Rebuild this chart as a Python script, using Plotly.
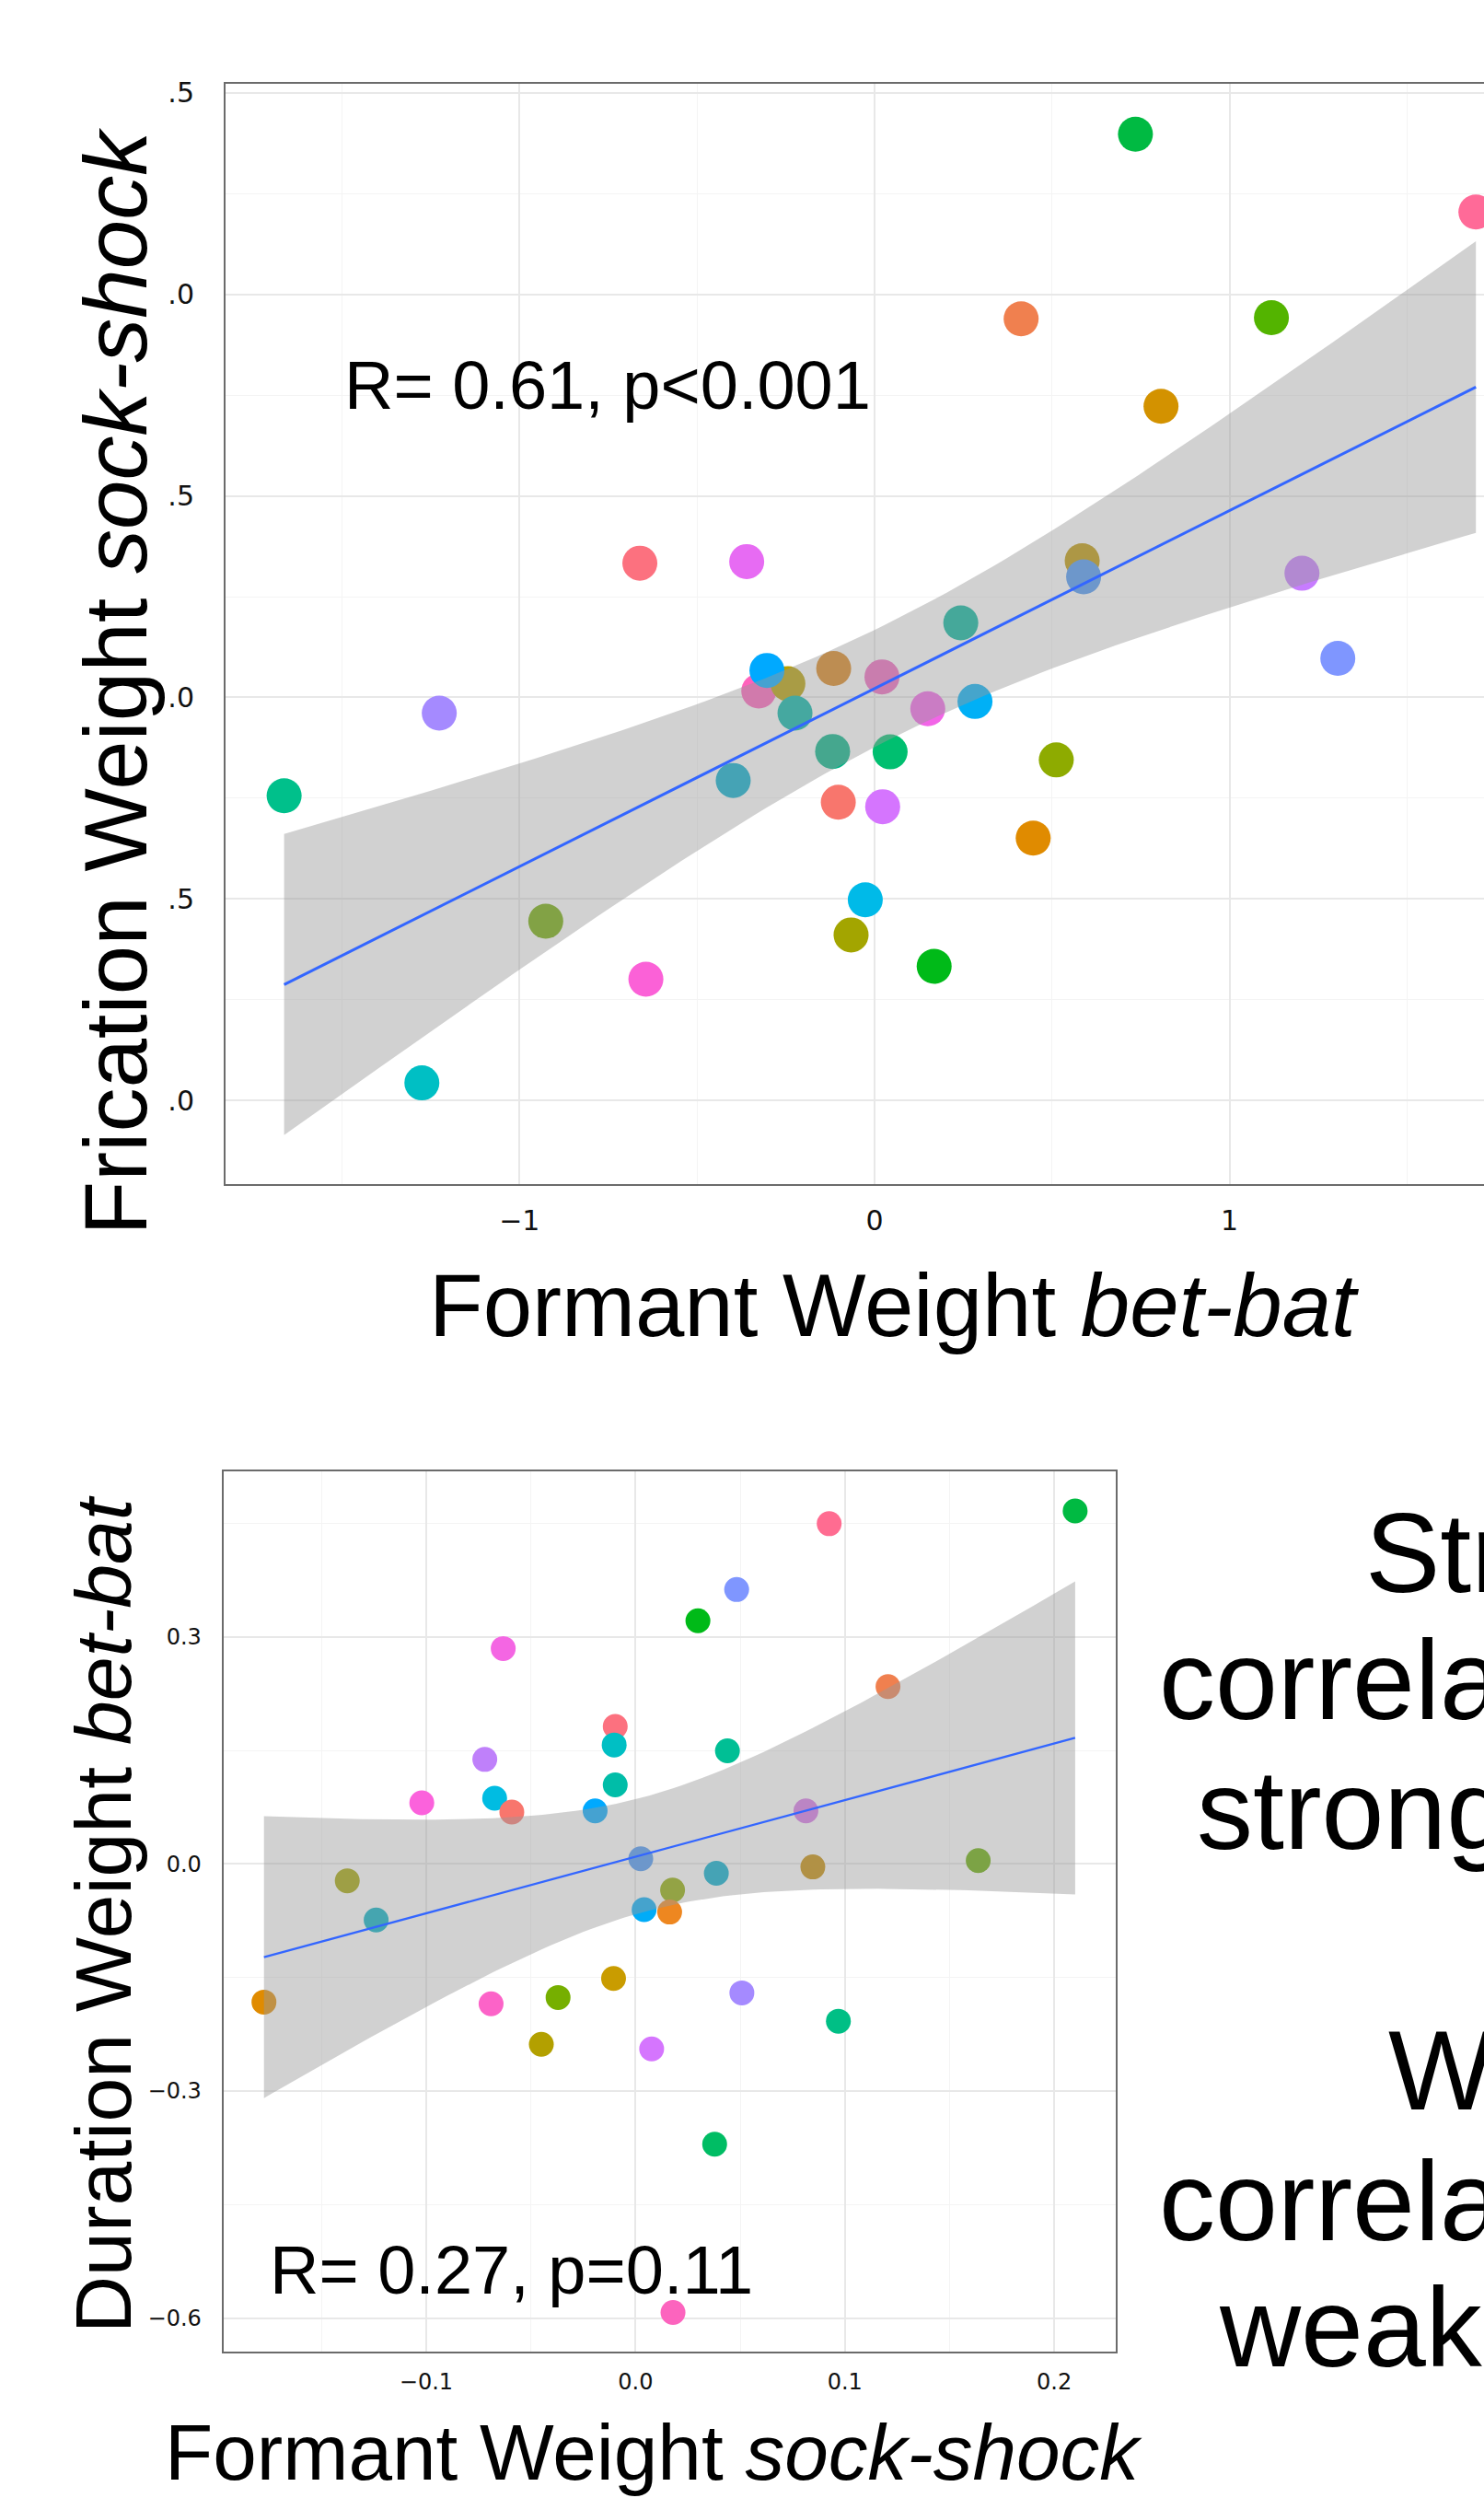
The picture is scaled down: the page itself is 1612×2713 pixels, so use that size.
import numpy as np
import plotly.graph_objects as go

W, H = 1612, 2713
TEXT_FONT = "Liberation Sans, Arial, Helvetica, sans-serif"
TICK_FONT = "DejaVu Sans, Liberation Sans, sans-serif"

# ---- Upper panel: formant weight (bet-bat) vs frication weight (sock-shock), one point per listener
bet_bat_formant = [
    -0.661, -0.360, -1.226, -0.326, -0.244, -0.303, -0.115, -0.224,
    0.735, 1.694, 0.413, 1.118, 0.807, 0.585, 0.589, 1.204, 1.305,
    0.243, 0.021, 0.150, 0.283, -1.663, -0.398, -0.118, -0.102,
    -0.926, -0.644, -1.275, -0.026, -0.066, 0.044, 0.512, 0.023,
    0.447, 0.168,
]
sock_shock_frication = [
    0.333, 0.337, -0.039, 0.016, 0.034, 0.067, 0.072, -0.039,
    1.397, 1.204, 0.939, 0.942, 0.722, 0.339, 0.299, 0.308, 0.097,
    0.185, 0.051, -0.028, -0.010, -0.244, -0.206, -0.134, -0.260,
    -0.555, -0.699, -0.956, -0.502, -0.589, -0.135, -0.155, -0.271,
    -0.349, -0.667,
]
listener_colors_top = [
    "#FC717F", "#E76BF3", "#A58AFF", "#FF62BC", "#B79F00", "#00A9FF", "#DB8419", "#00B5A6",
    "#00BA42", "#FF6A98", "#F0804F", "#53B400", "#D39200", "#BE9600", "#4A96F5", "#C77CFF", "#7F96FF",
    "#00B49B", "#F066C0", "#F265E7", "#00B0F6", "#00C08B", "#00ACCD", "#00B386", "#F8766D",
    "#6FAA00", "#FB61D7", "#00BFC4", "#00BAE8", "#A3A500", "#00BF70", "#8EAB00", "#D575FE",
    "#E08B00", "#00BA18",
]
top_x_ticks = [-1, 0, 1]
top_y_ticks = [-1.0, -0.5, 0.0, 0.5, 1.0, 1.5]
r_label_top = "R= 0.61, p&lt;0.001"

# ---- Lower panel: formant weight (sock-shock) vs duration weight (bet-bat)
sock_shock_formant = [
    0.2100, 0.0925, 0.0483, 0.0298, -0.0632, 0.1206, -0.0097, -0.0102,
    -0.0720, 0.0439, -0.0097, -0.1021, -0.0673, -0.0591, -0.0193, 0.0814,
    0.0025, -0.1377, -0.1239, 0.0386, 0.0847, 0.1637, 0.0177, 0.0041,
    0.0163, -0.1775, -0.0105, -0.0690, -0.0370, 0.0508, -0.0450, 0.0077,
    0.0969, 0.0378, 0.0179,
]
bet_bat_duration = [
    0.4664, 0.4496, 0.3626, 0.3214, 0.2847, 0.2344, 0.1817, 0.1573,
    0.1382, 0.1496, 0.1046, 0.0809, 0.0870, 0.0687, 0.0702, 0.0702,
    0.0069, -0.0221, -0.0740, -0.0122, -0.0038, 0.0046, -0.0344, -0.0603,
    -0.0634, -0.1824, -0.1511, -0.1847, -0.1763, -0.1702, -0.2382, -0.2443,
    -0.2076, -0.3702, -0.5924,
]
listener_colors_bottom = [
    "#00BA42", "#FF6C91", "#7F96FF", "#00BA18", "#F466E3", "#F0804F", "#FC717F", "#00BFC4",
    "#BF80FA", "#00BF95", "#00BDA8", "#FB62DC", "#00BCE2", "#F8766D", "#00A9FF", "#D775E8",
    "#4A96F5", "#A3A500", "#00B0C4", "#00ACCD", "#C58A00", "#64AC00", "#8EAB00", "#00ACF8",
    "#EE8720", "#E08B00", "#C99C00", "#FC63C8", "#76AF00", "#A58AFF", "#B3A000", "#D575FE",
    "#00BF85", "#00BD64", "#FC64BE",
]
bottom_x_ticks = [-0.1, 0.0, 0.1, 0.2]
bottom_y_ticks = [-0.6, -0.3, 0.0, 0.3]
r_label_bottom = "R= 0.27, p=0.11"

# Side notes (only the left part of each line fits on the page)
side_lines = ["Strong", "correlation", "stronger", "Weak", "correlation", "weaker"]


def t_quantile_975(df):
    # Cornish-Fisher expansion of the Student t 97.5% quantile
    z = 1.959963985
    return (z + (z**3 + z) / (4 * df)
            + (5 * z**5 + 16 * z**3 + 3 * z) / (96 * df**2)
            + (3 * z**7 + 19 * z**5 + 17 * z**3 - 15 * z) / (384 * df**3))


def lm_band(x, y, n_grid=100):
    """Least-squares line with 95% confidence band over the data's x span."""
    x = np.asarray(x, float)
    y = np.asarray(y, float)
    n = len(x)
    xb, yb = x.mean(), y.mean()
    sxx = ((x - xb) ** 2).sum()
    slope = ((x - xb) * (y - yb)).sum() / sxx
    icpt = yb - slope * xb
    resid = y - (icpt + slope * x)
    s = np.sqrt((resid ** 2).sum() / (n - 2))
    grid = np.linspace(x.min(), x.max(), n_grid)
    fit = icpt + slope * grid
    half = t_quantile_975(n - 2) * s * np.sqrt(1.0 / n + (grid - xb) ** 2 / sxx)
    return grid, fit, fit - half, fit + half


def px(x):
    return x / W


def py(y):
    return 1 - y / H


fig = go.Figure()


def add_panel(xv, yv, cols, size, xa, ya, line_w):
    fig.add_trace(go.Scatter(
        x=xv, y=yv, mode="markers", xaxis=xa, yaxis=ya,
        marker=dict(color=cols, size=size, line=dict(width=0)),
        hoverinfo="skip", showlegend=False))
    g, fit, lo, hi = lm_band(xv, yv)
    fig.add_trace(go.Scatter(
        x=np.concatenate([g, g[::-1]]), y=np.concatenate([hi, lo[::-1]]),
        mode="lines", fill="toself", fillcolor="rgba(153,153,153,0.45)",
        line=dict(width=0), xaxis=xa, yaxis=ya, hoverinfo="skip", showlegend=False))
    fig.add_trace(go.Scatter(
        x=g, y=fit, mode="lines", line=dict(color="#3366FF", width=line_w),
        xaxis=xa, yaxis=ya, hoverinfo="skip", showlegend=False))


add_panel(bet_bat_formant, sock_shock_frication, listener_colors_top, 38, "x", "y", 3.0)
add_panel(sock_shock_formant, bet_bat_duration, listener_colors_bottom, 27, "x2", "y2", 2.3)

grid_major = dict(showgrid=True, gridcolor="#E8E8E8", gridwidth=1.6, zeroline=False,
                  showline=True, linecolor="#6B6B6B", linewidth=2, ticks="",
                  automargin=False)

fig.update_layout(
    width=W, height=H,
    margin=dict(l=0, r=0, t=0, b=0, pad=0, autoexpand=False),
    paper_bgcolor="white", plot_bgcolor="white",
    showlegend=False,
    xaxis=dict(
        domain=[px(245), 1.0], range=[-1.828, 1.7168], anchor="y",
        tickvals=top_x_ticks, tickformat="d", mirror=True,
        tickfont=dict(family=TICK_FONT, size=30, color="#111111"),
        ticklabelstandoff=12,
        minor=dict(dtick=0.5, tick0=0, showgrid=True, gridcolor="#F4F4F4", gridwidth=1.2),
        **grid_major),
    yaxis=dict(
        domain=[py(1286), py(91)], range=[-1.207, 1.522], anchor="x",
        tickvals=top_y_ticks, tickformat=".1f", mirror=False,
        tickfont=dict(family=TICK_FONT, size=30, color="#111111"),
        ticklabelstandoff=26,
        minor=dict(dtick=0.25, tick0=0, showgrid=True, gridcolor="#F4F4F4", gridwidth=1.2),
        **grid_major),
    xaxis2=dict(
        domain=[px(242.6), px(1212)], range=[-0.1969, 0.2294], anchor="y2",
        tickvals=bottom_x_ticks, tickformat=".1f", mirror=True,
        tickfont=dict(family=TICK_FONT, size=24, color="#111111"),
        ticklabelstandoff=10,
        minor=dict(dtick=0.05, tick0=0, showgrid=True, gridcolor="#F4F4F4", gridwidth=1.2),
        **grid_major),
    yaxis2=dict(
        domain=[py(2554.3), py(1597.8)], range=[-0.6445, 0.5190], anchor="x2",
        tickvals=bottom_y_ticks, tickformat=".1f", mirror=True,
        tickfont=dict(family=TICK_FONT, size=24, color="#111111"),
        ticklabelstandoff=17,
        minor=dict(dtick=0.15, tick0=0, showgrid=True, gridcolor="#F4F4F4", gridwidth=1.2),
        **grid_major),
)

# white text box of the slide's y-axis label, sitting over the tick numbers
fig.add_shape(type="rect", xref="paper", yref="paper",
              x0=0, x1=px(184), y0=py(1292), y1=py(88),
              fillcolor="white", line=dict(width=0), layer="above")

annotations = []


def note(text, x, y, size, xanchor="center", yanchor="middle", angle=0):
    annotations.append(dict(
        text=text, xref="paper", yref="paper", x=px(x), y=py(y),
        xanchor=xanchor, yanchor=yanchor, textangle=angle, showarrow=False,
        font=dict(family=TEXT_FONT, size=size, color="black")))


# correlation labels (baseline-to-centre offset ~0.35 em)
note(r_label_top, 372, 444 - 0.3465 * 74, 74, xanchor="left")
note(r_label_bottom, 291, 2491 - 0.3465 * 74, 74, xanchor="left")

# axis titles
note("Frication Weight <i>sock-shock</i>", 125, 739.5, 96, angle=-90)
note("Formant Weight <i>bet-bat</i>", 971, 1417, 96)
note("Duration Weight <i>bet-bat</i>", 112, 2079, 86, angle=-90)
note("Formant Weight <i>sock-shock</i>", 710, 2663, 85.5)

# side notes
side_left = [1481, 1257, 1298, 1506, 1257, 1322]
side_base = [1729, 1867, 2008, 2291, 2433, 2570]
for txt, lx, by in zip(side_lines, side_left, side_base):
    note(txt, lx, by - 0.3465 * 122, 122, xanchor="left")

fig.update_layout(annotations=annotations)

fig.write_html("out.html")
